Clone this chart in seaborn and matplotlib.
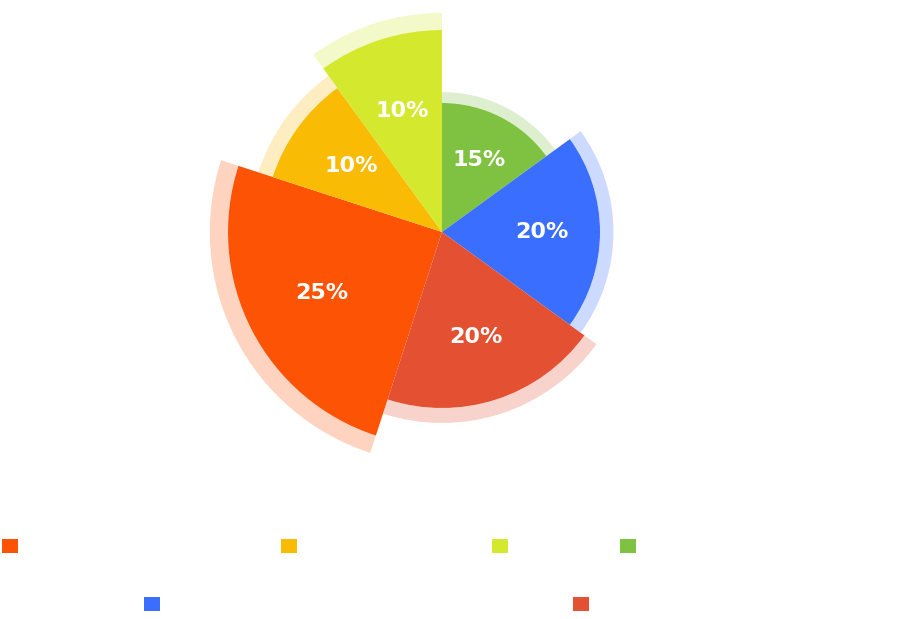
import numpy as np
import matplotlib
matplotlib.use("Agg")
import matplotlib.pyplot as plt
from matplotlib.patches import Patch
import seaborn as sns

# data, in legend order
names = [
    "Search engines and organic visits",
    "Email newsletter signups",
    "Video content",
    "Referral links from partner websites",
    "Direct visits typed into the web browser address bars",
    "Paid banner advertising",
]
shares = [25, 10, 10, 15, 20, 20]          # percent -> sector angle
radii = [214, 178, 202, 129, 158, 176]     # sector length
colors = ["#FC5305", "#F9BB04", "#D4E92D", "#7FC241", "#3A6EFF", "#E45032"]

sns.set_theme(style="white")
palette = sns.color_palette(colors)

fig = plt.figure(figsize=(9.10, 6.19), dpi=100)
ax = fig.add_axes([(442 - 240) / 910, (619 - 232 - 240) / 619, 480 / 910, 480 / 619],
                  projection="polar")
ax.set_theta_zero_location("N")
ax.set_theta_direction(-1)

widths = np.deg2rad(np.array(shares) * 3.6)
starts = np.deg2rad(198) + np.concatenate([[0], np.cumsum(widths)[:-1]])
r = np.array(radii, dtype=float)

# light halo ring outside each sector
ax.bar(starts, r * 0.085, width=widths, bottom=r, align="edge",
       color=palette, alpha=0.25, linewidth=0)
ax.bar(starts, r, width=widths, bottom=0, align="edge",
       color=palette, linewidth=0, antialiased=True)

for s, w, rr, p in zip(starts, widths, r, shares):
    ax.text(s + w / 2, rr * 0.63, f"{p}%", ha="center", va="center",
            color="white", fontsize=16, fontweight="bold", family="DejaVu Sans")

ax.set_ylim(0, 240)
ax.set_axis_off()

handles = [Patch(facecolor=c, edgecolor="none") for c in palette]
legend_kw = dict(frameon=False, loc="center", handlelength=1.28, handleheight=1.28,
                 handletextpad=0.4, columnspacing=0.8, borderpad=0, borderaxespad=0,
                 prop={"family": "DejaVu Sans Mono", "size": 9}, labelcolor="white")
leg1 = fig.legend(handles[:4], names[:4], ncol=4,
                  bbox_to_anchor=(0.5 + 1.5 / 910, 1 - 546 / 619), **legend_kw)
fig.legend(handles[4:], names[4:], ncol=2, bbox_to_anchor=(0.5, 1 - 604 / 619), **legend_kw)
fig.add_artist(leg1)

fig.savefig("out.png", dpi=100, facecolor="white")
